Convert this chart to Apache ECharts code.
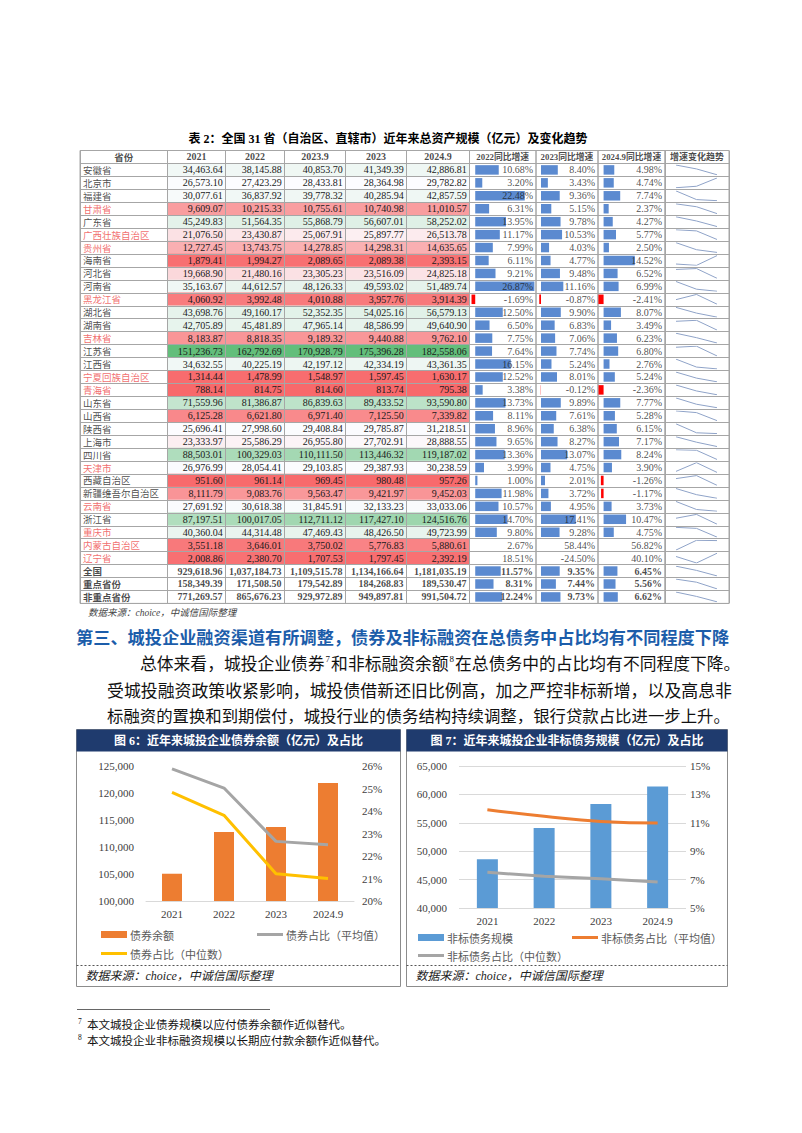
<!DOCTYPE html>
<html><head><meta charset="utf-8">
<script src="https://cdn.jsdelivr.net/npm/echarts@6/dist/echarts.min.js"></script>
<style>html,body{margin:0;padding:0;background:#fff}#c{width:802px;height:1133px}</style>
</head><body><div id="c"></div>
<script>
// ---------------- DATA ----------------
const colHeaders = ['省份','2021','2022','2023.9','2023','2024.9','2022同比增速','2023同比增速','2024.9同比增速','增速变化趋势'];
const rowNames = ['安徽省','北京市','福建省','甘肃省','广东省','广西壮族自治区','贵州省','海南省','河北省','河南省','黑龙江省','湖北省','湖南省','吉林省','江苏省','江西省','宁夏回族自治区','青海省','山东省','山西省','陕西省','上海市','四川省','天津市','西藏自治区','新疆维吾尔自治区','云南省','浙江省','重庆市','内蒙古自治区','辽宁省','全国','重点省份','非重点省份'];
const keyProvinces = ['甘肃省','广西壮族自治区','贵州省','黑龙江省','吉林省','宁夏回族自治区','青海省','天津市','云南省','重庆市','内蒙古自治区','辽宁省'];
const totalRows = ['全国','重点省份','非重点省份'];
const noBarRows = ['内蒙古自治区','辽宁省'];
const asset2021 = [34463.64,26573.10,30077.61,9609.07,45249.83,21076.50,12727.45,1879.41,19668.90,35163.67,4060.92,43698.76,42705.89,8183.87,151236.73,34632.55,1314.44,788.14,71559.96,6125.28,25696.41,23333.97,88503.01,26976.99,951.60,8111.79,27691.92,87197.51,40360.04,3551.18,2008.86,929618.96,158349.39,771269.57];
const asset2022 = [38145.88,27423.29,36837.92,10215.33,51564.35,23430.87,13743.75,1994.27,21480.16,44612.57,3992.48,49160.17,45481.89,8818.35,162792.69,40225.19,1478.99,814.75,81386.87,6621.80,27998.60,25586.29,100329.03,28054.41,961.14,9083.76,30618.38,100017.05,44314.48,3646.01,2380.70,1037184.73,171508.50,865676.23];
const asset2023q3 = [40853.70,28433.81,39778.32,10755.61,55868.79,25067.91,14278.85,2089.65,23305.23,48126.33,4010.88,52352.35,47965.14,9189.32,170928.79,42197.12,1548.97,814.60,86839.63,6971.40,29408.84,26955.80,110111.50,29103.85,969.45,9563.47,31845.91,112711.12,47469.43,3750.02,1707.53,1109515.78,179542.89,929972.89];
const asset2023 = [41349.39,28364.98,40285.94,10740.98,56607.01,25897.77,14298.31,2089.38,23516.09,49593.02,3957.76,54025.16,48586.99,9440.88,175396.28,42334.19,1597.45,813.74,89433.52,7125.50,29785.87,27702.91,113446.32,29387.93,980.48,9421.97,32133.23,117427.10,48426.50,5776.83,1797.45,1134166.64,184268.83,949897.81];
const asset2024q3 = [42886.81,29782.82,42857.59,11010.57,58252.02,26513.78,14635.65,2393.15,24825.18,51489.74,3914.39,56579.13,49640.90,9762.10,182558.06,43361.35,1630.17,795.38,93590.80,7339.82,31218.51,28888.55,119187.02,30238.59,957.26,9452.03,33033.06,124516.76,49723.99,5880.61,2392.19,1181035.19,189530.47,991504.72];
const growth2022 = [10.68,3.20,22.48,6.31,13.95,11.17,7.99,6.11,9.21,26.87,-1.69,12.50,6.50,7.75,7.64,16.15,12.52,3.38,13.73,8.11,8.96,9.65,13.36,3.99,1.00,11.98,10.57,14.70,9.80,2.67,18.51,11.57,8.31,12.24];
const growth2023 = [8.40,3.43,9.36,5.15,9.78,10.53,4.03,4.77,9.48,11.16,-0.87,9.90,6.83,7.06,7.74,5.24,8.01,-0.12,9.89,7.61,6.38,8.27,13.07,4.75,2.01,3.72,4.95,17.41,9.28,58.44,-24.50,9.35,7.44,9.73];
const growth2024q3 = [4.98,4.74,7.74,2.37,4.27,5.77,2.50,14.52,6.52,6.99,-2.41,8.07,3.49,6.23,6.80,2.76,5.24,-2.36,7.77,5.28,6.15,7.17,8.24,3.90,-1.26,-1.17,3.73,10.47,4.75,56.82,40.10,6.45,5.56,6.62];

const figCats = ['2021','2022','2023','2024.9'];
const bondBalance = [105050, 112800, 113700, 121850];
const bondShareMean = [25.87, 25.02, 22.65, 22.50];
const bondShareMedian = [24.83, 23.81, 21.21, 21.00];
const nonStdScale = [48600, 54100, 58300, 61400];
const nonStdShareMean = [11.92, 11.46, 11.10, 10.99];
const nonStdShareMedian = [7.51, 7.23, 7.06, 6.83];

// ---------------- STYLE / LAYOUT ----------------
const FONT_NUM = '"Liberation Serif","Noto Sans CJK SC",serif';
const FONT_CJK = '"Noto Sans CJK SC","Liberation Serif",sans-serif';
const LINE = '#A6A6A6', RED = '#EE4747', BLUE = '#5B8AD0', TXT = '#1a1a1a';
const X = [80, 167.5, 225.5, 284.5, 345.5, 406.5, 469.5, 536, 598, 665, 729];
const TOP = 150.5, RH = 12.94, NR = rowNames.length + 1, H = RH * NR;
const yCats = ['hdr'].concat(rowNames);
const barRange = [[-2.6, 27.6], [-2.5, 28.5], [-2.6, 28.6]];
const fmt = v => v.toLocaleString('en-US', {minimumFractionDigits: 2, maximumFractionDigits: 2});

const grid = [], xAxis = [], yAxis = [], series = [], legend = [], graphic = [], heatIdx = [];

function tableYAxis(gi) {
  return {gridIndex: gi, type: 'category', data: yCats, inverse: true,
    axisLine: {show: false}, axisTick: {show: false, interval: 0}, axisLabel: {show: false, interval: 0},
    splitLine: {show: true, interval: 0, lineStyle: {color: LINE, width: 1}}, z: 10};
}
function catXAxis(gi, name) {
  return {gridIndex: gi, type: 'category', data: [name],
    axisLine: {show: false}, axisTick: {show: false, interval: 0}, axisLabel: {show: false, interval: 0},
    splitLine: {show: true, interval: 0, lineStyle: {color: LINE, width: 1}}, z: 10};
}
function addTableGrid(c, xa) {
  const gi = grid.length;
  grid.push({left: X[c], top: TOP, width: X[c + 1] - X[c], height: H, show: true, borderColor: LINE, borderWidth: 1});
  xAxis.push(xa ? Object.assign({gridIndex: gi}, xa) : catXAxis(gi, colHeaders[c]));
  yAxis.push(tableYAxis(gi));
  return gi;
}

// names column
(function () {
  const gi = addTableGrid(0);
  const w = X[1] - X[0];
  const data = [{value: [0, 0], label: {formatter: colHeaders[0], fontWeight: 'bold', align: 'center', offset: [0, 0]}}];
  rowNames.forEach((n, i) => data.push({value: [0, i + 1], label: {formatter: n,
    color: keyProvinces.includes(n) ? RED : TXT, fontWeight: totalRows.includes(n) ? 'bold' : 'normal'}}));
  series.push({type: 'scatter', xAxisIndex: gi, yAxisIndex: gi, symbolSize: 0, silent: true, clip: false, z: 20,
    label: {show: true, position: 'inside', align: 'left', offset: [-w / 2 + 3, 0], fontSize: 9.5, fontFamily: FONT_CJK, color: TXT},
    data});
})();

// asset heat columns
[asset2021, asset2022, asset2023q3, asset2023, asset2024q3].forEach((col, k) => {
  const c = k + 1, w = X[c + 1] - X[c];
  const gi = addTableGrid(c);
  const prov = col.slice(0, 31);
  const s = prov.slice().sort((a, b) => a - b);
  const mn = s[0], md = s[15], mx = s[30];
  const heatData = prov.map((v, i) => [0, i + 1, v, v <= md ? (v - md) / (md - mn) : (v - md) / (mx - md)]);
  heatIdx.push(series.length);
  series.push({type: 'heatmap', xAxisIndex: gi, yAxisIndex: gi, data: heatData, silent: true,
    emphasis: {disabled: true},
    label: {show: true, position: 'insideRight', distance: 3, fontSize: 10, fontFamily: FONT_NUM, color: TXT,
      formatter: p => fmt(p.value[2])}});
  const txt = [{value: [0, 0], label: {formatter: colHeaders[c], align: 'center', offset: [0, 0]}}];
  for (let i = 31; i < rowNames.length; i++) txt.push({value: [0, i + 1], label: {formatter: fmt(col[i])}});
  series.push({type: 'scatter', xAxisIndex: gi, yAxisIndex: gi, symbolSize: 0, silent: true, clip: false, z: 20,
    label: {show: true, position: 'inside', align: 'right', offset: [w / 2 - 3, 0], fontSize: 10, fontWeight: 'bold', fontFamily: FONT_NUM, color: TXT},
    data: txt});
});

// growth data-bar columns
[growth2022, growth2023, growth2024q3].forEach((col, k) => {
  const c = k + 6, mn = barRange[k][0], mx = barRange[k][1];
  const gi = addTableGrid(c, {type: 'value', min: mn, max: mx, axisLine: {show: false}, axisTick: {show: false},
    axisLabel: {show: false}, splitLine: {show: false}});
  const bars = ['-'].concat(col.map((v, i) => noBarRows.includes(rowNames[i]) ? '-' : v));
  series.push({type: 'bar', xAxisIndex: gi, yAxisIndex: gi, data: bars, barWidth: 9.5, silent: true,
    itemStyle: {color: p => p.value < 0 ? '#FF0000' : BLUE}});
  const txt = [{value: [(mn + mx) / 2, 0], label: {formatter: colHeaders[c], position: 'inside', align: 'center',
    fontWeight: 'bold', fontSize: 8.8}}];
  col.forEach((v, i) => txt.push({value: [mx, i + 1], label: {formatter: v.toFixed(2) + '%', fontWeight: i >= 31 ? 'bold' : 'normal'}}));
  series.push({type: 'scatter', xAxisIndex: gi, yAxisIndex: gi, symbolSize: 0, silent: true, clip: false, z: 20,
    label: {show: true, position: 'left', distance: 3, fontSize: 10, fontFamily: FONT_NUM, color: TXT},
    data: txt});
});

// sparkline column frame + header
(function () {
  const gi = addTableGrid(9);
  series.push({type: 'scatter', xAxisIndex: gi, yAxisIndex: gi, symbolSize: 0, silent: true, clip: false, z: 20,
    label: {show: true, position: 'inside', fontSize: 9, fontWeight: 'bold', fontFamily: FONT_CJK, color: TXT, formatter: colHeaders[9]},
    data: [[0, 0]]});
})();

// sparklines
rowNames.forEach((n, i) => {
  const gi = grid.length;
  grid.push({left: 676, top: TOP + (i + 1) * RH + 1.6, width: 41, height: RH - 3.2});
  xAxis.push({gridIndex: gi, type: 'category', data: ['2022', '2023', '2024.9'], boundaryGap: false, show: false});
  yAxis.push({gridIndex: gi, type: 'value', min: 'dataMin', max: 'dataMax', show: false});
  series.push({type: 'line', xAxisIndex: gi, yAxisIndex: gi, data: [growth2022[i], growth2023[i], growth2024q3[i]],
    symbol: 'none', silent: true, lineStyle: {color: '#8FA3C8', width: 1}});
});

// ---------------- FIG 6 ----------------
const axisTxt = {fontSize: 11, color: '#404040', fontFamily: FONT_NUM};
(function () {
  const gi = grid.length, yi = yAxis.length;
  grid.push({left: 146, top: 766, width: 208, height: 135});
  xAxis.push({gridIndex: gi, type: 'category', data: figCats, axisLine: {lineStyle: {color: '#D9D9D9'}},
    axisTick: {show: false}, axisLabel: Object.assign({margin: 7}, axisTxt)});
  yAxis.push({gridIndex: gi, type: 'value', min: 100000, max: 125000, interval: 5000,
    axisLine: {show: false}, axisTick: {show: false}, splitLine: {show: false},
    axisLabel: Object.assign({margin: 12, formatter: v => v.toLocaleString('en-US')}, axisTxt)});
  yAxis.push({gridIndex: gi, type: 'value', position: 'right', min: 20, max: 26, interval: 1,
    axisLine: {show: false}, axisTick: {show: false}, splitLine: {show: false},
    axisLabel: Object.assign({margin: 8, formatter: '{value}%'}, axisTxt)});
  series.push({name: '债券余额', type: 'bar', xAxisIndex: gi, yAxisIndex: yi, data: bondBalance, barWidth: 20,
    itemStyle: {color: '#ED7D31'}, silent: true});
  series.push({name: '债券占比（平均值）', type: 'line', xAxisIndex: gi, yAxisIndex: yi + 1, data: bondShareMean,
    symbol: 'none', lineStyle: {color: '#A5A5A5', width: 3}, itemStyle: {color: '#A5A5A5'}, silent: true});
  series.push({name: '债券占比（中位数）', type: 'line', xAxisIndex: gi, yAxisIndex: yi + 1, data: bondShareMedian,
    symbol: 'none', lineStyle: {color: '#FFC000', width: 3}, itemStyle: {color: '#FFC000'}, silent: true});
})();

// ---------------- FIG 7 ----------------
(function () {
  const gi = grid.length, yi = yAxis.length;
  grid.push({left: 459, top: 766, width: 227, height: 142});
  xAxis.push({gridIndex: gi, type: 'category', data: figCats, axisLine: {show: false},
    axisTick: {show: false}, axisLabel: Object.assign({margin: 7}, axisTxt)});
  yAxis.push({gridIndex: gi, type: 'value', min: 40000, max: 65000, interval: 5000,
    axisLine: {show: false}, axisTick: {show: false}, splitLine: {show: true, lineStyle: {color: '#D9D9D9'}},
    axisLabel: Object.assign({margin: 12, formatter: v => v.toLocaleString('en-US')}, axisTxt)});
  yAxis.push({gridIndex: gi, type: 'value', position: 'right', min: 5, max: 15, interval: 2,
    axisLine: {show: false}, axisTick: {show: false}, splitLine: {show: false},
    axisLabel: Object.assign({margin: 4, formatter: '{value}%'}, axisTxt)});
  series.push({name: '非标债务规模', type: 'bar', xAxisIndex: gi, yAxisIndex: yi, data: nonStdScale, barWidth: 21,
    itemStyle: {color: '#5B9BD5'}, silent: true});
  series.push({name: '非标债务占比（平均值）', type: 'line', xAxisIndex: gi, yAxisIndex: yi + 1, data: nonStdShareMean,
    symbol: 'none', smooth: true, lineStyle: {color: '#ED7D31', width: 3}, itemStyle: {color: '#ED7D31'}, silent: true});
  series.push({name: '非标债务占比（中位数）', type: 'line', xAxisIndex: gi, yAxisIndex: yi + 1, data: nonStdShareMedian,
    symbol: 'none', lineStyle: {color: '#A5A5A5', width: 3}, itemStyle: {color: '#A5A5A5'}, silent: true});
})();

function addLegend(name, left, top, isBar) {
  legend.push({left, top, padding: 0, itemGap: 0, selectedMode: false, itemWidth: 26, itemHeight: isBar ? 7 : 3,
    data: [{name, icon: 'rect'}],
    textStyle: {fontSize: 11, color: '#595959', fontFamily: FONT_CJK, padding: [0, 0, 0, -2]}});
}
addLegend('债券余额', 101, 929, true);
addLegend('债券占比（平均值）', 257, 929, false);
addLegend('债券占比（中位数）', 101, 948, false);
addLegend('非标债务规模', 418, 932, true);
addLegend('非标债务占比（平均值）', 572, 932, false);
addLegend('非标债务占比（中位数）', 418, 950, false);

// ---------------- TEXT / FRAMES ----------------
function text(x, y, t, font, fill, align, extra) {
  graphic.push({type: 'text', x, y, silent: true, z: 50,
    style: Object.assign({text: t, font, fill, align: align || 'left', textAlign: align || 'left',
      verticalAlign: 'middle', textVerticalAlign: 'middle'}, extra || {})});
}
text(388, 139, '表 2：全国 31 省（自治区、直辖市）近年来总资产规模（亿元）及变化趋势', 'bold 12px ' + FONT_NUM, '#000', 'center');
text(88, 613, '数据来源：choice，中诚信国际整理', 'italic 9.5px ' + FONT_NUM, '#444');
text(76, 636, '第三、城投企业融资渠道有所调整，债券及非标融资在总债务中占比均有不同程度下降', 'bold 17.2px ' + FONT_CJK, '#1C5DAA');
text(140, 663, '总体来看，城投企业债券{s|7}和非标融资余额{s|8}在总债务中的占比均有不同程度下降。', '16.8px ' + FONT_CJK, '#111', 'left',
  {rich: {s: {fontSize: 9, verticalAlign: 'top', fontFamily: FONT_NUM, fill: '#111', padding: [0, 1, 6, 1]}}});
text(107, 689, '受城投融资政策收紧影响，城投债借新还旧比例高，加之严控非标新增，以及高息非', '16.9px ' + FONT_CJK, '#111');
text(107, 715, '标融资的置换和到期偿付，城投行业的债务结构持续调整，银行贷款占比进一步上升。', '16.4px ' + FONT_CJK, '#111');

function figFrame(x, w, title) {
  graphic.push({type: 'rect', silent: true, z: 1, shape: {x: x, y: 729.5, width: w, height: 257}, style: {fill: 'none', stroke: '#8C8C8C', lineWidth: 1}});
  graphic.push({type: 'rect', silent: true, z: 2, shape: {x: x, y: 729.5, width: w, height: 22}, style: {fill: '#1F3B6E'}});
  text(x + w / 2, 740.5, title, 'bold 12px ' + FONT_NUM, '#fff', 'center');
  graphic.push({type: 'line', silent: true, z: 2, shape: {x1: x, y1: 965.5, x2: x + w, y2: 965.5}, style: {stroke: '#555', lineWidth: 1, lineDash: [2, 2]}});
  text(x + 9, 976, '数据来源：choice，中诚信国际整理', 'italic 12px ' + FONT_NUM, '#222');
}
figFrame(76.5, 324, '图 6：近年来城投企业债券余额（亿元）及占比');
figFrame(406.5, 321, '图 7：近年来城投企业非标债务规模（亿元）及占比');

graphic.push({type: 'line', silent: true, shape: {x1: 77, y1: 1009.5, x2: 270, y2: 1009.5}, style: {stroke: '#666', lineWidth: 1}});
const fnRich = {rich: {s: {fontSize: 7.5, verticalAlign: 'top', fill: '#111', padding: [0, 0, 5, 0], fontFamily: FONT_NUM}}};
text(78, 1024, '{s|7}  本文城投企业债券规模以应付债券余额作近似替代。', '11.5px ' + FONT_CJK, '#111', 'left', fnRich);
text(78, 1040, '{s|8}  本文城投企业非标融资规模以长期应付款余额作近似替代。', '11.5px ' + FONT_CJK, '#111', 'left', fnRich);

// ---------------- CHART ----------------
const chart = echarts.init(document.getElementById('c'), null, {renderer: 'svg', width: 802, height: 1133});
chart.setOption({
  animation: false,
  backgroundColor: '#fff',
  grid, xAxis, yAxis, series, legend, graphic,
  visualMap: [{type: 'continuous', show: false, dimension: 3, min: -1, max: 1, seriesIndex: heatIdx,
    inRange: {color: ['#F8696B', '#FCFCFF', '#63BE7B']}}]
});
</script>
</body></html>
